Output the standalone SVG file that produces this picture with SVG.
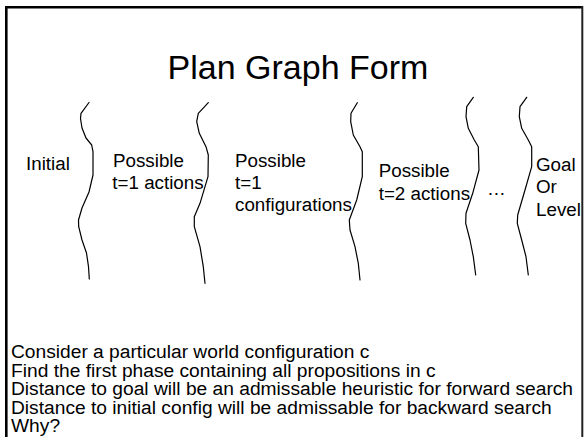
<svg xmlns="http://www.w3.org/2000/svg" width="584" height="437" viewBox="0 0 584 437">
  <style>
    text { font-family: "Liberation Sans", Arial, sans-serif; fill: #000; }
    .title { font-size: 34px; text-anchor: middle; }
    .label { font-size: 18.8px; }
    .body { font-size: 19.2px; }
    .wave { fill: none; stroke: #000; stroke-width: 1.2; stroke-linejoin: round; stroke-linecap: round; }
  </style>

  <!-- slide background and frame -->
  <rect x="0" y="0" width="584" height="437" fill="#fff"/>
  <g id="frame">
    <rect x="5" y="6" width="578" height="2.5" fill="#000"/>
    <rect x="5" y="6" width="2.6" height="431" fill="#000"/>
    <rect x="581.3" y="6" width="2" height="431" fill="#222"/>
  </g>

  <g id="title">
    <text class="title" x="298" y="79">Plan Graph Form</text>
  </g>

  <!-- wavy dividers between the phases -->
  <g id="dividers">
    <polyline class="wave" points="89,102.5 81,113.3 80.5,118.5 82,128 86,138 91.7,145 93,151.7 93,175 89,192 82,208 78.5,220 78.7,226.7 82,240 86.5,253 88.5,266.7 89.3,279"/>
    <polyline class="wave" points="208.3,102.7 198.3,113.3 196.7,121.7 199.3,133.3 206,146.7 208.3,155 208,176.7 200,203.3 194.3,216.7 194.3,226.7 200,246.7 203.3,266.7 205,283.3"/>
    <polyline class="wave" points="357.3,102.7 351,113.3 350.7,121.7 353.3,135 360,146.7 362.3,151.7 362.3,176.7 356.7,200 349.3,220 350,230 355,246.7 358.3,263.3 360,280"/>
    <polyline class="wave" points="473.3,97.3 466.7,106.7 466,116.7 468.3,128.3 474.3,140 478.3,146.7 479,170 472.7,193.3 466,213.3 465.7,223.3 470,240 473.3,256.7 475.7,275"/>
    <polyline class="wave" points="526.7,97.3 520,106.7 519.3,116.7 521.7,128.3 528.3,140 531.7,146.7 531.7,166.7 525,190 517.7,215 517.3,223.3 521.7,240 526,256.7 528.3,275"/>
  </g>

  <!-- phase labels -->
  <g id="phase-initial">
    <text class="label" x="26" y="169.5">Initial</text>
  </g>
  <g id="phase-t1-actions">
    <text class="label" x="113" y="167">Possible</text>
    <text class="label" x="112.3" y="189">t=1 actions</text>
  </g>
  <g id="phase-t1-configs">
    <text class="label" x="235" y="167">Possible</text>
    <text class="label" x="235" y="189">t=1</text>
    <text class="label" x="235" y="211">configurations</text>
  </g>
  <g id="phase-t2-actions">
    <text class="label" x="378.7" y="177">Possible</text>
    <text class="label" x="378.7" y="199.5">t=2 actions</text>
  </g>
  <g id="phase-ellipsis">
    <text class="label" x="487" y="194.5">…</text>
  </g>
  <g id="phase-goal">
    <text class="label" x="536" y="170.5">Goal</text>
    <text class="label" x="536" y="193">Or</text>
    <text class="label" x="536" y="215.5">Level</text>
  </g>

  <g id="notes">
    <text class="body" x="11" y="358">Consider a particular world configuration c</text>
    <text class="body" x="11" y="376.5">Find the first phase containing all propositions in c</text>
    <text class="body" x="11" y="395">Distance to goal will be an admissable heuristic for forward search</text>
    <text class="body" x="11" y="413.5">Distance to initial config will be admissable for backward search</text>
    <text class="body" x="11" y="432">Why?</text>
  </g>
</svg>
